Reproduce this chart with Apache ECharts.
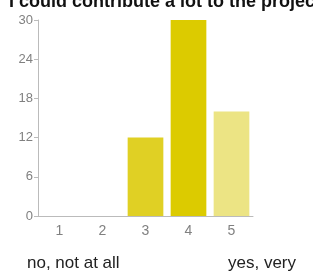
<!DOCTYPE html>
<html>
<head>
<meta charset="utf-8">
<script src="https://cdn.jsdelivr.net/npm/echarts@6/dist/echarts.min.js"></script>
<style>
  html, body { margin: 0; padding: 0; background: #fff; }
  #chart { width: 313px; height: 274px; }
</style>
</head>
<body>
<div id="chart"></div>
<script>
const categories = ['1', '2', '3', '4', '5']
const counts = [0, 0, 12, 30, 16]
const barColors = ['#e0d024', '#e0d024', '#e0d024', '#dccb00', '#ece484']
const yTicks = { min: 0, max: 30, interval: 6 }

const chart = echarts.init(document.getElementById('chart'))

chart.setOption({
  animation: false,
  grid: { left: 38, right: 60, top: 20, bottom: 58 },
  xAxis: {
    type: 'category',
    data: categories,
    axisLine: { lineStyle: { color: '#bbb' } },
    axisTick: { alignWithLabel: true, length: 4, lineStyle: { color: '#bbb' } },
    axisLabel: { color: '#808080', fontFamily: 'Arial', fontSize: 14, margin: 8 }
  },
  yAxis: {
    type: 'value',
    min: yTicks.min,
    max: yTicks.max,
    interval: yTicks.interval,
    splitLine: { show: false },
    axisLine: { show: true, lineStyle: { color: '#bbb' } },
    axisTick: { show: true, length: 4, lineStyle: { color: '#bbb' } },
    axisLabel: { color: '#808080', fontFamily: 'Arial', fontSize: 13, margin: 5 }
  },
  series: [{
    type: 'bar',
    barCategoryGap: '17%',
    data: counts.map((v, i) => ({ value: v, itemStyle: { color: barColors[i] } }))
  }],
  graphic: [
    {
      type: 'text', x: 9, y: 11,
      style: { text: 'I could contribute a lot to the project', font: 'bold 18px Arial', fill: '#111', verticalAlign: 'bottom' }
    },
    { type: 'text', x: 27, y: 272, style: { text: 'no, not at all', font: '17px Arial', fill: '#222', verticalAlign: 'bottom' } },
    { type: 'text', x: 228, y: 272, style: { text: 'yes, very', font: '17px Arial', fill: '#222', verticalAlign: 'bottom' } }
  ]
})
</script>
</body>
</html>
